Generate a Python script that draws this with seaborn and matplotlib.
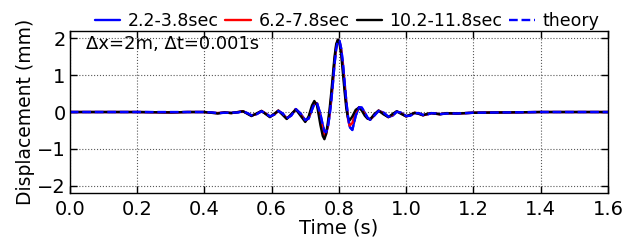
import numpy as np
import pandas as pd
import matplotlib
matplotlib.use('Agg')
import matplotlib.pyplot as plt
import seaborn as sns

# sample times (s)
time = [0.0, 0.1, 0.2, 0.3, 0.35, 0.4, 0.42, 0.44, 0.46, 0.48,
        0.50, 0.515, 0.53, 0.54, 0.555, 0.57, 0.583, 0.595, 0.608, 0.62,
        0.633, 0.645, 0.658, 0.672, 0.686, 0.70, 0.71, 0.72, 0.727, 0.735,
        0.745, 0.752, 0.757, 0.762, 0.767, 0.772, 0.777, 0.782, 0.787, 0.792,
        0.797, 0.802, 0.807, 0.812, 0.817, 0.822, 0.827, 0.832, 0.84, 0.85,
        0.86, 0.868, 0.877, 0.885, 0.893, 0.905, 0.918, 0.932, 0.947, 0.96,
        0.972, 0.985, 1.0, 1.012, 1.025, 1.037, 1.05, 1.062, 1.075, 1.09,
        1.10, 1.12, 1.15, 1.2, 1.3, 1.4, 1.5, 1.6]

# displacement (mm) per recording window
disp_2_4 = [0.0, 0.0, 0.0, -0.01, 0.0, 0.0, -0.01, -0.03, -0.02, -0.02,
            -0.01, 0.02, -0.04, -0.09, -0.06, 0.02, -0.04, -0.12, -0.07, 0.03,
            -0.04, -0.17, -0.10, 0.08, -0.04, -0.22, -0.18, 0.06, 0.22, 0.24,
            -0.05, -0.35, -0.52, -0.55, -0.42, -0.12, 0.28, 0.75, 1.30, 1.72,
            1.95, 1.93, 1.72, 1.32, 0.80, 0.30, -0.12, -0.40, -0.48, -0.10,
            0.13, 0.12, -0.02, -0.15, -0.21, -0.10, 0.03, -0.01, -0.13, -0.10,
            0.01, -0.02, -0.11, -0.10, -0.03, -0.03, -0.08, -0.07, -0.03, -0.04,
            -0.06, -0.04, -0.04, -0.02, -0.01, 0.0, 0.0, 0.0]
disp_6_8 = [0.0, 0.0, 0.0, -0.01, 0.0, 0.0, -0.02, -0.03, -0.01, -0.03,
            0.0, 0.02, -0.05, -0.10, -0.05, 0.03, -0.05, -0.13, -0.06, 0.04,
            -0.06, -0.18, -0.08, 0.08, -0.07, -0.25, -0.16, 0.12, 0.27, 0.22,
            -0.20, -0.50, -0.64, -0.60, -0.38, -0.05, 0.38, 0.88, 1.40, 1.80,
            1.96, 1.90, 1.65, 1.20, 0.68, 0.20, -0.18, -0.37, -0.30, 0.02,
            0.13, 0.08, -0.06, -0.17, -0.20, -0.08, 0.04, -0.04, -0.14, -0.07,
            0.02, -0.04, -0.12, -0.08, -0.02, -0.04, -0.09, -0.06, -0.03, -0.05,
            -0.06, -0.03, -0.04, -0.02, -0.01, 0.0, 0.0, 0.0]
disp_10_12 = [0.0, 0.0, 0.0, -0.01, 0.0, 0.0, -0.02, -0.04, -0.01, -0.03,
              0.0, 0.02, -0.06, -0.11, -0.04, 0.03, -0.06, -0.14, -0.05, 0.04,
              -0.08, -0.19, -0.06, 0.07, -0.10, -0.27, -0.12, 0.18, 0.30, 0.18,
              -0.35, -0.65, -0.74, -0.60, -0.30, 0.05, 0.50, 1.00, 1.50, 1.85,
              1.97, 1.85, 1.55, 1.05, 0.55, 0.10, -0.15, -0.23, -0.12, 0.06,
              0.12, 0.04, -0.10, -0.18, -0.20, -0.06, 0.04, -0.06, -0.14, -0.05,
              0.02, -0.05, -0.12, -0.07, -0.02, -0.05, -0.09, -0.05, -0.03, -0.05,
              -0.06, -0.03, -0.04, -0.02, -0.01, 0.0, 0.0, 0.0]
disp_theory = [0.0, 0.0, 0.0, 0.0, 0.0, 0.0, -0.01, -0.03, -0.02, -0.02,
               -0.01, 0.02, -0.04, -0.09, -0.06, 0.02, -0.04, -0.12, -0.07, 0.03,
               -0.04, -0.17, -0.10, 0.08, -0.04, -0.22, -0.18, 0.06, 0.22, 0.24,
               -0.06, -0.36, -0.53, -0.55, -0.42, -0.12, 0.28, 0.76, 1.30, 1.72,
               1.95, 1.93, 1.72, 1.32, 0.80, 0.30, -0.12, -0.41, -0.49, -0.10,
               0.13, 0.12, -0.02, -0.15, -0.21, -0.10, 0.03, -0.01, -0.13, -0.10,
               0.01, -0.02, -0.11, -0.10, -0.03, -0.03, -0.08, -0.07, -0.03, -0.04,
               -0.06, -0.04, -0.04, -0.02, -0.01, 0.0, 0.0, 0.0]

labels = ['2.2-3.8sec', '6.2-7.8sec', '10.2-11.8sec', 'theory']
colors = ['blue', 'red', 'black', 'blue']

sns.set_style('ticks', {'xtick.direction': 'in', 'ytick.direction': 'in',
                        'axes.edgecolor': 'black', 'text.color': 'black',
                        'axes.labelcolor': 'black', 'xtick.color': 'black',
                        'ytick.color': 'black'})
plt.rcParams['font.family'] = ['DejaVu Sans']

fig = plt.figure(figsize=(6.4, 2.43), dpi=100)
ax = fig.add_axes([0.109, 0.206, 0.841, 0.666])

series = [disp_2_4, disp_6_8, disp_10_12, disp_theory]
for vals, lab, col in zip(series, labels, colors):
    df = pd.DataFrame({'t': time, 'u': vals})
    ls = '--' if lab == 'theory' else '-'
    sns.lineplot(data=df, x='t', y='u', ax=ax, color=col, lw=1.7,
                 linestyle=ls, label=lab, sort=False)

ax.set_xlim(0, 1.6)
ax.set_ylim(-2.2, 2.2)
ax.set_xticks(np.arange(0, 1.61, 0.2))
ax.set_yticks([-2, -1, 0, 1, 2])
ax.set_xticklabels(['%.1f' % v for v in np.arange(0, 1.61, 0.2)])
ax.tick_params(labelsize=14, length=5, width=1, top=True, right=True,
               colors='black')
ax.tick_params(axis='x', pad=5)
ax.tick_params(axis='y', pad=3)
ax.grid(True, linestyle=':', color='0.35', lw=0.8)
for s in ax.spines.values():
    s.set_linewidth(1.0)
ax.set_xlabel('Time (s)', fontsize=14, labelpad=0)
ax.set_ylabel('Displacement (mm)', fontsize=13.5, labelpad=1)
ax.text(0.03, 0.975, '\u0394x=2m, \u0394t=0.001s', transform=ax.transAxes,
        fontsize=13, va='top', ha='left')
ax.legend(loc='lower center', bbox_to_anchor=(0.515, 0.965), ncol=4,
          frameon=False, fontsize=12.5, handlelength=1.45, handletextpad=0.45,
          columnspacing=0.4, borderaxespad=0.0)

fig.savefig('out.png', dpi=100)
